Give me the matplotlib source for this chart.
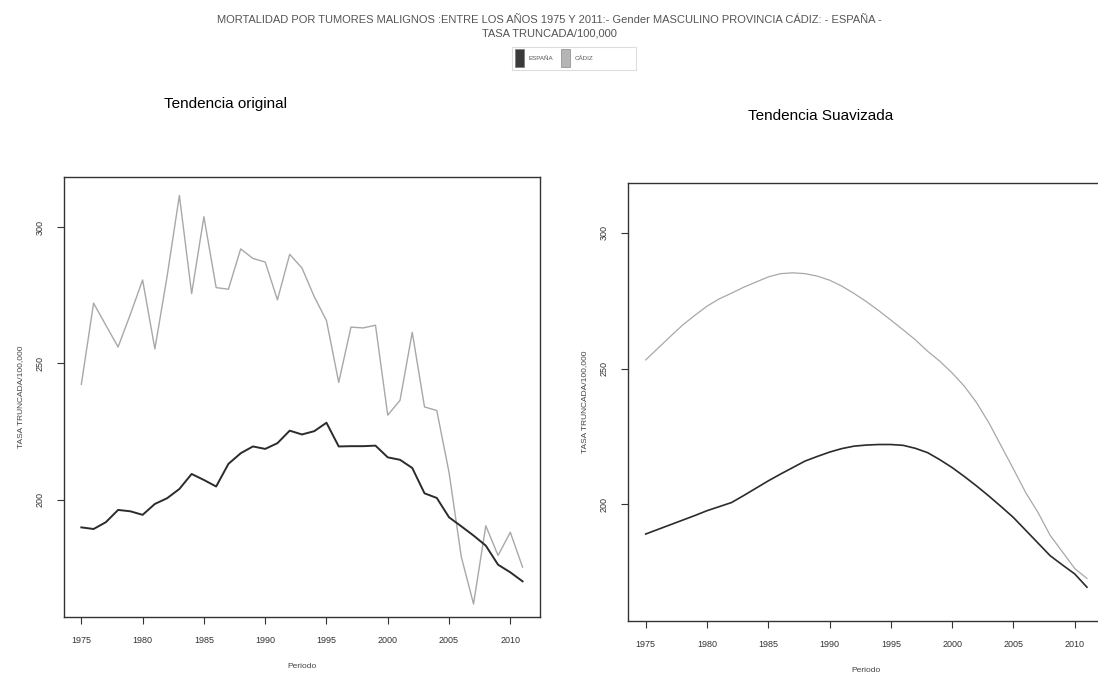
import matplotlib
matplotlib.use("Agg")
import matplotlib.pyplot as plt
from matplotlib.patches import Rectangle

plt.rcParams['font.family'] = ['Liberation Sans', 'DejaVu Sans']

## data
years = list(range(1975, 2012))

espana = [189.8, 189.2, 191.7, 196.2, 195.7, 194.4, 198.4, 200.5, 203.9, 209.4,
          207.2, 204.8, 213.1, 217.0, 219.5, 218.6, 220.7, 225.3, 223.9, 225.1,
          228.2, 219.5, 219.6, 219.6, 219.8, 215.5, 214.6, 211.6, 202.3, 200.6,
          193.5, 190.2, 186.8, 183.1, 176.1, 173.3, 170.0]

cadiz = [242.3, 272.1, 264.0, 256.0, 268.0, 280.6, 255.3, 282.0, 311.6, 275.6,
         303.8, 277.8, 277.2, 292.0, 288.5, 287.2, 273.3, 290.0, 285.0, 274.5,
         265.7, 243.0, 263.3, 263.0, 264.0, 231.0, 236.4, 261.4, 234.0, 232.7,
         210.0, 179.0, 161.7, 190.4, 179.5, 188.0, 175.2]

espana_suave = [189.0, 190.7, 192.4, 194.1, 195.8, 197.6, 199.1, 200.6, 203.2, 205.9,
                208.6, 211.1, 213.5, 215.9, 217.6, 219.2, 220.5, 221.4, 221.8, 222.0,
                222.0, 221.7, 220.6, 219.0, 216.4, 213.5, 210.2, 206.7, 203.0, 199.1,
                195.1, 190.4, 185.7, 181.0, 177.6, 174.3, 169.4]

cadiz_suave = [253.2, 257.5, 261.8, 266.0, 269.6, 273.0, 275.7, 277.8, 280.0, 281.9,
               283.8, 285.0, 285.3, 285.0, 284.1, 282.6, 280.4, 277.7, 274.7, 271.4,
               267.9, 264.3, 260.6, 256.4, 252.7, 248.4, 243.5, 237.4, 230.0, 221.5,
               213.0, 204.3, 197.0, 188.5, 182.4, 176.3, 172.6]

x_ticks = list(range(1975, 2011, 5))
y_ticks = [200, 250, 300]

col_esp = '#2b2b2b'
col_cad = '#a8a8a8'

fig = plt.figure(figsize=(10.98, 6.77), dpi=100)

fig.text(0.5, 0.971, "MORTALIDAD POR TUMORES MALIGNOS :ENTRE LOS AÑOS 1975 Y 2011:- Gender MASCULINO PROVINCIA CÁDIZ: - ESPAÑA -",
         ha='center', va='center', fontsize=8, color='#555555')
fig.text(0.5, 0.951, "TASA TRUNCADA/100,000", ha='center', va='center', fontsize=8, color='#555555')

# legend box drawn by hand like the html one
fig.patches.append(Rectangle((0.466, 0.897), 0.113, 0.033, transform=fig.transFigure,
                             facecolor='white', edgecolor='#dddddd', lw=0.8))
fig.patches.append(Rectangle((0.469, 0.901), 0.008, 0.026, transform=fig.transFigure,
                             facecolor='#3a3a3a', edgecolor='#777777', lw=0.5))
fig.text(0.481, 0.914, "ESPAÑA", ha='left', va='center', fontsize=4.5, color='#555555')
fig.patches.append(Rectangle((0.511, 0.901), 0.008, 0.026, transform=fig.transFigure,
                             facecolor='#b5b5b5', edgecolor='#888888', lw=0.5))
fig.text(0.523, 0.914, "CÁDIZ", ha='left', va='center', fontsize=4.5, color='#555555')

fig.text(0.205, 0.846, "Tendencia original", ha='center', va='center', fontsize=11)
fig.text(0.747, 0.829, "Tendencia Suavizada", ha='center', va='center', fontsize=11)

ax1 = fig.add_axes([0.058, 0.089, 0.434, 0.650])
ax2 = fig.add_axes([0.572, 0.083, 0.434, 0.647])

panels = [(ax1, espana, cadiz, 1.0, 1.4), (ax2, espana_suave, cadiz_suave, 0.9, 1.2)]
for ax, esp, cad, lw_c, lw_e in panels:
    ax.plot(years, cad, color=col_cad, lw=lw_c)
    ax.plot(years, esp, color=col_esp, lw=lw_e)
    ax.set_xlim(1973.56, 2012.44)
    ax.set_ylim(157, 318.5)
    ax.set_xticks(x_ticks)
    ax.set_yticks(y_ticks)
    ax.set_xticklabels([str(v) for v in x_ticks], fontsize=6.5, color='#444444')
    ax.set_yticklabels([str(v) for v in y_ticks], fontsize=6.5, color='#444444',
                       rotation=90, va='center')
    ax.tick_params(direction='out', length=5, width=0.8, pad=9, colors='#333333')
    for sp in ax.spines.values():
        sp.set_linewidth(1.0)
        sp.set_color('#333333')
    ax.set_xlabel("Periodo", fontsize=6, color='#444444', labelpad=13)
    ax.set_ylabel("TASA TRUNCADA/100,000", fontsize=6, color='#444444', labelpad=8)

fig.savefig("out.png", dpi=100)
